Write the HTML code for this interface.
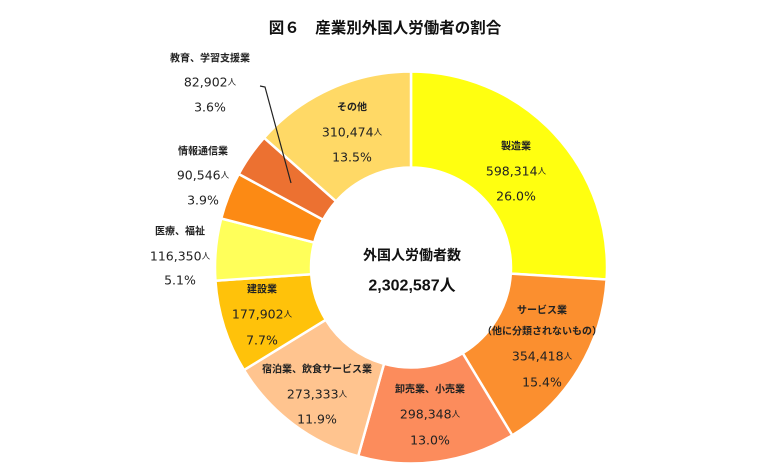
<!DOCTYPE html>
<html><head><meta charset="utf-8">
<style>
html,body{margin:0;padding:0;background:#fff;}
svg{display:block;font-family:"Liberation Sans","Noto Sans CJK JP",sans-serif;}
.n{font-size:10px;font-weight:bold;fill:#222;}
.v{font-size:12.5px;fill:#222;font-family:"DejaVu Sans","Noto Sans CJK JP",sans-serif;}
.s{font-size:8.5px;font-family:"Noto Sans CJK JP",sans-serif;}
</style></head><body>
<svg id="c" width="769" height="476" viewBox="0 0 769 476" xmlns="http://www.w3.org/2000/svg">
<text x="385" y="33" text-anchor="middle" font-size="15.5" font-weight="bold" fill="#111">図６　産業別外国人労働者の割合</text>
<g id="ring"></g>
<polyline points="260,86 265,87 291,183" fill="none" stroke="#222" stroke-width="1.2"/>
<g text-anchor="middle" dominant-baseline="central">
<text x="352" y="108" class="n">その他</text>
<text x="352" y="132" class="v">310,474<tspan class="s">人</tspan></text>
<text x="352" y="157" class="v">13.5%</text>
<text x="516" y="147" class="n">製造業</text>
<text x="516" y="171" class="v">598,314<tspan class="s">人</tspan></text>
<text x="516" y="196" class="v">26.0%</text>
<text x="542" y="311" class="n">サービス業</text>
<text x="542" y="332" class="n">（他に分類されないもの）</text>
<text x="542" y="356" class="v">354,418<tspan class="s">人</tspan></text>
<text x="542" y="382" class="v">15.4%</text>
<text x="430" y="390" class="n">卸売業、小売業</text>
<text x="430" y="414" class="v">298,348<tspan class="s">人</tspan></text>
<text x="430" y="440" class="v">13.0%</text>
<text x="317" y="370" class="n">宿泊業、飲食サービス業</text>
<text x="317" y="394" class="v">273,333<tspan class="s">人</tspan></text>
<text x="317" y="419" class="v">11.9%</text>
<text x="262" y="290" class="n">建設業</text>
<text x="262" y="314" class="v">177,902<tspan class="s">人</tspan></text>
<text x="262" y="340" class="v">7.7%</text>
<text x="210" y="59" class="n">教育、学習支援業</text>
<text x="210" y="82" class="v">82,902<tspan class="s">人</tspan></text>
<text x="210" y="107" class="v">3.6%</text>
<text x="203" y="152" class="n">情報通信業</text>
<text x="203" y="175" class="v">90,546<tspan class="s">人</tspan></text>
<text x="203" y="200" class="v">3.9%</text>
<text x="180" y="232" class="n">医療、福祉</text>
<text x="180" y="256" class="v">116,350<tspan class="s">人</tspan></text>
<text x="180" y="280" class="v">5.1%</text>
<text x="412" y="255" font-size="14" font-weight="bold" fill="#111">外国人労働者数</text>
<text x="412" y="286" font-size="16" font-weight="bold" fill="#111">2,302,587人</text>
</g>
</svg>
<script>
(function(){
var cx=411,cy=267.5,R=196,r=100;
var d=[[26.0,"#FFFF10"],[15.4,"#FB8F2F"],[13.0,"#FC8C5C"],[11.9,"#FFC48F"],[7.7,"#FFC20A"],[5.1,"#FFFF5A"],[3.9,"#FC8A14"],[3.6,"#EC7131"],[13.5,"#FFD966"]];
var tot=0;d.forEach(function(x){tot+=x[0];});
var a=0,g=document.getElementById("ring"),s="";
function p(rad,ang){return [cx+rad*Math.sin(ang),cy-rad*Math.cos(ang)];}
d.forEach(function(x){
 var a0=a/tot*2*Math.PI;a+=x[0];var a1=a/tot*2*Math.PI;
 var L=(a1-a0)>Math.PI?1:0;
 var p0=p(R,a0),p1=p(R,a1),q1=p(r,a1),q0=p(r,a0);
 s+='<path d="M'+p0+' A'+R+','+R+' 0 '+L+' 1 '+p1+' L'+q1+' A'+r+','+r+' 0 '+L+' 0 '+q0+' Z" fill="'+x[1]+'" stroke="#fff" stroke-width="2.5"/>';
});
g.innerHTML=s;
})();
</script>
</body></html>
